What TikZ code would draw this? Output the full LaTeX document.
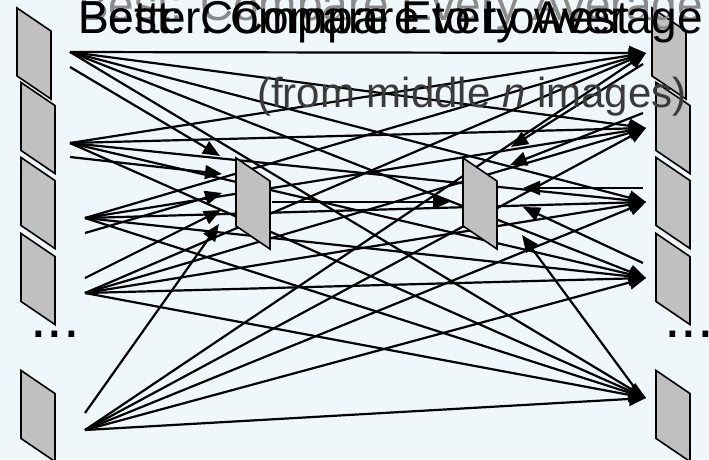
\documentclass[tikz,border=0pt]{standalone}
\usepackage{fontspec}
\setmainfont{Liberation Sans}
\usetikzlibrary{arrows.meta}
\definecolor{slidebg}{HTML}{F0F7FA}
\definecolor{framefill}{HTML}{C0C0C0}
\definecolor{notegray}{HTML}{3A3A3A}
\definecolor{fadegray}{HTML}{8A8A8A}
\tikzstyle{frame}=[draw, fill=framefill, line width=1.6pt, inner sep=0, outer sep=0,
                   minimum width=34pt, minimum height=68pt, yslant=-0.68]
\tikzstyle{cmp}=[line width=2.2pt, -{Triangle[length=17pt, width=14pt]}]
\tikzstyle{heading}=[inner sep=0, anchor=base west, font=\fontsize{46}{50}\selectfont]
\tikzstyle{dots}=[inner sep=0, anchor=base west, font=\fontsize{60}{60}\selectfont]

\begin{document}
\begin{tikzpicture}[x=1pt, y=-1pt]
    \useasboundingbox[fill=slidebg] (0,0) rectangle (709,459);
    % ends of the comparison lines
    \foreach \i/\x/\y in {1/70/52, 2/70/143, 3/85/218, 4/85/293, 5/85/430}
        \coordinate (f\i) at (\x,\y);
    \foreach \i/\x/\y in {1/70/67, 2/70/157, 3/85/233, 4/85/278, 5/85/413}
        \coordinate (s\i) at (\x,\y);
    \foreach \i/\y in {1/53, 2/128, 3/202, 4/278, 5/398}
        \coordinate (t\i) at (646,\y);
    \foreach \i/\x/\y in {1/220/156, 2/222/174, 3/222/193, 4/221/210, 5/219/224}
        \coordinate (a\i) at (\x,\y);
    \foreach \i/\x/\y in {1/643/64, 2/643/113, 3/643/188, 4/643/263, 5/640/395}
        \coordinate (q\i) at (\x,\y);
    \foreach \i/\x/\y in {1/511/147, 2/510/165, 3/523/188, 4/523/207, 5/522/235}
        \coordinate (b\i) at (\x,\y);
    \coordinate (avgout) at (272,202);
    \coordinate (avgin) at (450,202);

    % every frame against every frame
    \foreach \i in {1,...,5}
        \foreach \j in {1,...,5}
            \draw[cmp] (f\i) -- (t\j);
    % frames into the averages
    \foreach \i in {1,...,5} {
        \draw[cmp] (s\i) -- (a\i);
        \draw[cmp] (q\i) -- (b\i);
    }
    \draw[cmp] (avgout) -- (avgin);

    % the two averages
    \node[frame] (m1) at (253,203.5) {};
    \node[frame] (m2) at (480,203.5) {};

    % image columns
    \node[frame] (l1) at (34,53.5) {};
    \node[frame] (r1) at (669,53.5) {};
    \foreach \i/\cy in {2/128, 3/203, 4/279, 5/416} {
        \node[frame] (l\i) at (38,\cy) {};
        \node[frame] (r\i) at (673,\cy) {};
    }
    \node[dots] (ldots) at (30,337) {...};
    \node[dots] (rdots) at (664,337) {...};

    % titles
    \node[heading, text=fadegray] (oldtitle) at (78,20) {Best: Compare Every Average};
    \node[heading] (title) at (78,33) {Best: Compare Every Average};
    \node[heading] (title2) at (78,33) {Better: Compare to Lowest};
    \node[inner sep=0, anchor=base west, text=notegray, font=\fontsize{42}{46}\selectfont]
        (note) at (257,107) {(from middle \textit{n} images)};
\end{tikzpicture}
\end{document}
